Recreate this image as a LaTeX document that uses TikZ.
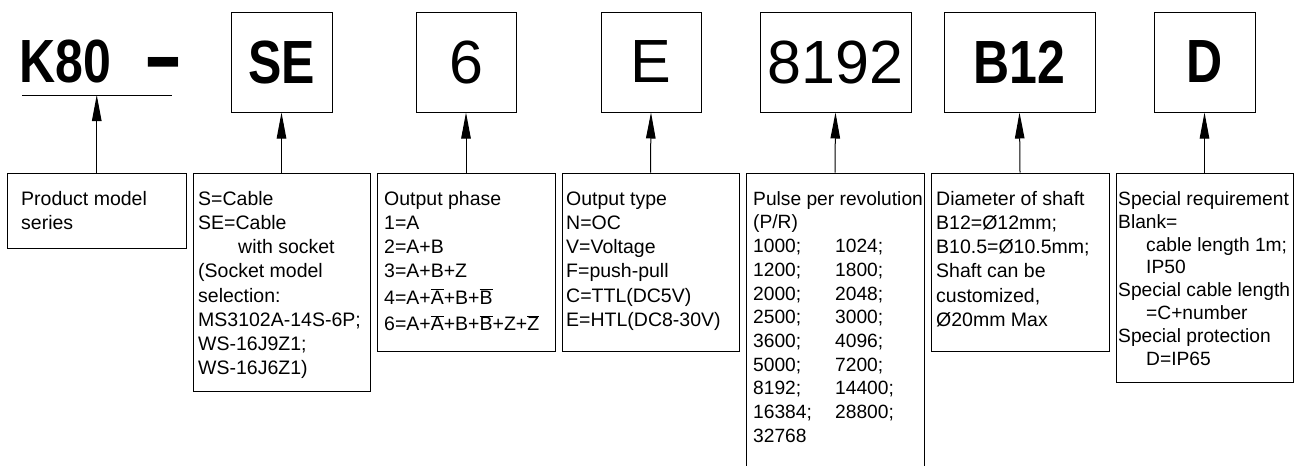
\documentclass[tikz,border=0pt]{standalone}
\usepackage{fontspec}
\setmainfont{Liberation Sans}
\usepackage{graphicx}
\usetikzlibrary{arrows.meta}
% condensed bold lettering for the model code
\newcommand\cnd[1]{\scalebox{0.82}[1]{\bfseries #1}}
% complemented signal name
\newcommand\ovl[1]{$\overline{\mbox{#1}}$}
% fixed height of the first text line in each description box
\newcommand\fst{\rule{0pt}{20pt}}

\begin{document}
\begin{tikzpicture}[x=1pt,y=-1pt,
  codebox/.style={draw, line width=1pt, inner sep=0pt, minimum height=100pt,
    font=\fontsize{61}{61}\selectfont},
  infobox/.style={draw, line width=1pt, inner sep=0pt},
  infotext/.style={anchor=north west, inner sep=0pt, align=left,
    font=\fontsize{19.5}{24.2}\selectfont},
  arr/.style={line width=1pt, -{Triangle[length=26pt,width=9.5pt]}}
]
\useasboundingbox (0,0) rectangle (1299,466);
\clip (0,0) rectangle (1299,466);

% ---- model code ----
\node[anchor=base west, inner sep=0pt, font=\fontsize{61}{61}\selectfont] (k80) at (19,82) {\cnd{K80}};
\node[anchor=base west, inner sep=0pt, font=\fontsize{61}{61}\selectfont] (sep) at (146,82) {\raisebox{-6.5pt}{\scalebox{1.0}[1.6]{\bfseries –}}};
\coordinate (ulL) at (22,95);
\coordinate (ulR) at (172,95);
\coordinate (ulM) at (96.75,95);
\draw[line width=1pt] (ulL) -- (ulR);

\node[codebox, minimum width=101pt] (se)   at (281.5,62)  {\cnd{SE}};
\node[codebox, minimum width=100pt] (six)  at (466,62)    {6};
\node[codebox, minimum width=100pt] (e)    at (651,62)    {E};
\node[codebox, minimum width=151pt] (ppr)  at (835.5,62)  {8192};
\node[codebox, minimum width=151pt] (b12)  at (1019.5,62) {\cnd{B12}};
\node[codebox, minimum width=101pt] (d)    at (1204.5,62) {\cnd{D}};

% ---- description boxes ----
\node[infobox, minimum width=178.5pt, minimum height=75pt]  (n1) at (96.75,210.5) {};
\node[infobox, minimum width=177pt,   minimum height=218pt] (n2) at (281.5,282)  {};
\node[infobox, minimum width=178pt,   minimum height=178pt] (n3) at (466,262)    {};
\node[infobox, minimum width=177pt,   minimum height=178pt] (n4) at (650.5,262)  {};
\node[infobox, minimum width=178pt,   minimum height=327pt] (n5) at (835,336.5)  {};
\node[infobox, minimum width=178pt,   minimum height=178pt] (n6) at (1020,262)   {};
\node[infobox, minimum width=177pt,   minimum height=209pt] (n7) at (1204.5,277.5) {};

\node[infotext] (t1) at (21,185) {\fst Product model\\series};
\node[infotext] (t2) at (198,185) {\fst S=Cable\\SE=Cable\\\hspace*{40pt}with socket\\(Socket model\\selection:\\MS3102A-14S-6P;\\WS-16J9Z1;\\WS-16J6Z1)};
\node[infotext] (t3) at (384,185) {\fst Output phase\\1=A\\2=A+B\\3=A+B+Z\\[2.5pt]4=A+\ovl{A}+B+\ovl{B}\\[2pt]6=A+\ovl{A}+B+\ovl{B}+Z+\ovl{Z}};
\node[infotext] (t4) at (566,185) {\fst Output type\\N=OC\\V=Voltage\\F=push-pull\\C=TTL(DC5V)\\E=HTL(DC8-30V)};
\node[infotext, font=\fontsize{19.2}{23.7}\selectfont] (t5) at (753,185) {\fst Pulse per revolution\\(P/R)\\
  \makebox[82pt][l]{1000;}1024;\\
  \makebox[82pt][l]{1200;}1800;\\
  \makebox[82pt][l]{2000;}2048;\\
  \makebox[82pt][l]{2500;}3000;\\
  \makebox[82pt][l]{3600;}4096;\\
  \makebox[82pt][l]{5000;}7200;\\
  \makebox[82pt][l]{8192;}14400;\\
  \makebox[82pt][l]{16384;}28800;\\
  32768};
\node[infotext] (t6) at (936,185) {\fst Diameter of shaft\\B12=Ø12mm;\\B10.5=Ø10.5mm;\\Shaft can be\\customized,\\Ø20mm Max};
\node[infotext, font=\fontsize{19.2}{22.9}\selectfont] (t7) at (1118,185) {\fst Special requirement\\Blank=\\\hspace*{28pt}cable length 1m;\\\hspace*{28pt}IP50\\Special cable length\\\hspace*{28pt}=C+number\\Special protection\\\hspace*{28pt}D=IP65};

% ---- pointers ----
\draw[arr] (n1.north) -- (ulM);
\draw[arr] (n2.north) -- (se.south);
\draw[arr] (n3.north) -- (six.south);
\draw[arr] (n4.north) -- (e.south);
\draw[arr] (n5.north) -- (ppr.south);
\draw[arr] (n6.north) -- (b12.south);
\draw[arr] (n7.north) -- (d.south);
\end{tikzpicture}
\end{document}
